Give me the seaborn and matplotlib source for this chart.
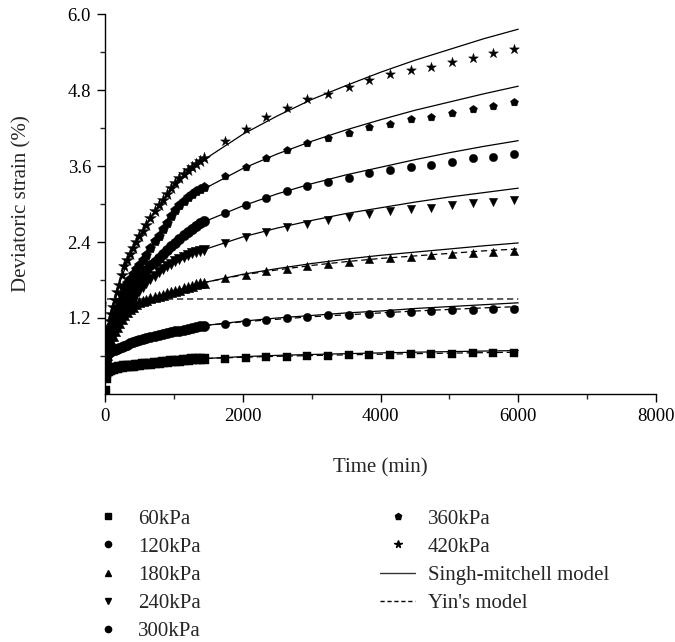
import numpy as np
import pandas as pd
import matplotlib
matplotlib.use("Agg")
import matplotlib.pyplot as plt
from matplotlib.lines import Line2D
import seaborn as sns

# ---------------- data ----------------
pressures = ["60kPa", "120kPa", "180kPa", "240kPa", "300kPa", "360kPa", "420kPa"]
markers = ["s", "o", "^", "v", "o", "p", "*"]

# dense test readings (first day)
t_dense = [0, 10, 20, 35, 50, 70, 90, 115, 140, 170, 200, 240, 280, 320, 360, 400, 450,
           500, 550, 600, 660, 720, 780, 840, 900, 960, 1020, 1080, 1140, 1200, 1260,
           1320, 1380, 1440]
d60 = [0.05, 0.25, 0.33, 0.36, 0.37, 0.38, 0.39, 0.40, 0.405, 0.41, 0.42, 0.425, 0.435,
       0.44, 0.445, 0.45, 0.455, 0.46, 0.47, 0.475, 0.48, 0.49, 0.495, 0.50, 0.51, 0.515,
       0.52, 0.525, 0.53, 0.54, 0.545, 0.55, 0.555, 0.56]
d120 = [0.35, 0.50, 0.58, 0.62, 0.64, 0.66, 0.68, 0.69, 0.70, 0.71, 0.72, 0.74, 0.76,
        0.78, 0.80, 0.82, 0.84, 0.86, 0.875, 0.89, 0.905, 0.92, 0.935, 0.95, 0.96, 0.975,
        0.99, 1.00, 1.015, 1.03, 1.04, 1.055, 1.07, 1.08]
d180 = [0.30, 0.45, 0.53, 0.62, 0.69, 0.77, 0.84, 0.92, 0.99, 1.06, 1.12, 1.19, 1.25,
        1.30, 1.34, 1.38, 1.42, 1.45, 1.47, 1.49, 1.51, 1.53, 1.55, 1.57, 1.59, 1.61,
        1.63, 1.65, 1.67, 1.69, 1.71, 1.73, 1.745, 1.76]
d240 = [0.35, 0.50, 0.58, 0.67, 0.73, 0.80, 0.86, 0.93, 0.99, 1.06, 1.12, 1.20, 1.28,
        1.35, 1.42, 1.49, 1.56, 1.63, 1.69, 1.75, 1.81, 1.87, 1.92, 1.97, 2.02, 2.06,
        2.10, 2.13, 2.16, 2.19, 2.22, 2.24, 2.265, 2.28]
d300 = [0.40, 0.56, 0.65, 0.75, 0.82, 0.90, 0.97, 1.05, 1.12, 1.20, 1.27, 1.36, 1.44,
        1.52, 1.59, 1.66, 1.74, 1.82, 1.89, 1.96, 2.03, 2.09, 2.15, 2.21, 2.27, 2.33,
        2.39, 2.45, 2.51, 2.56, 2.61, 2.66, 2.70, 2.73]
d360 = [0.45, 0.62, 0.72, 0.83, 0.91, 1.00, 1.08, 1.17, 1.26, 1.36, 1.45, 1.56, 1.66,
        1.75, 1.82, 1.89, 1.97, 2.03, 2.11, 2.20, 2.31, 2.41, 2.50, 2.60, 2.70, 2.81,
        2.91, 2.98, 3.05, 3.11, 3.16, 3.20, 3.24, 3.27]
d420 = [0.50, 0.75, 0.86, 0.98, 1.06, 1.16, 1.26, 1.38, 1.49, 1.61, 1.72, 1.88, 2.02,
        2.12, 2.21, 2.30, 2.40, 2.49, 2.58, 2.67, 2.78, 2.89, 2.98, 3.07, 3.16, 3.25,
        3.33, 3.41, 3.47, 3.53, 3.58, 3.63, 3.68, 3.73]

# sparse test readings (later)
t_sparse = [1740, 2040, 2340, 2640, 2940, 3240, 3540, 3840, 4140, 4440, 4740, 5040, 5340, 5640, 5940]
s60 = [0.56, 0.57, 0.58, 0.59, 0.60, 0.605, 0.61, 0.615, 0.62, 0.625, 0.63, 0.635, 0.64, 0.645, 0.65]
s120 = [1.11, 1.14, 1.17, 1.20, 1.22, 1.24, 1.255, 1.27, 1.285, 1.295, 1.305, 1.32, 1.33, 1.34, 1.35]
s180 = [1.83, 1.885, 1.935, 1.98, 2.02, 2.06, 2.09, 2.125, 2.15, 2.17, 2.19, 2.215, 2.23, 2.245, 2.26]
s240 = [2.38, 2.48, 2.56, 2.63, 2.68, 2.74, 2.79, 2.85, 2.89, 2.92, 2.94, 2.98, 3.02, 3.03, 3.06]
s300 = [2.86, 2.99, 3.10, 3.20, 3.28, 3.34, 3.41, 3.49, 3.54, 3.59, 3.62, 3.67, 3.72, 3.75, 3.79]
s360 = [3.44, 3.59, 3.73, 3.85, 3.97, 4.05, 4.12, 4.21, 4.27, 4.34, 4.38, 4.44, 4.50, 4.55, 4.61]
s420 = [3.99, 4.18, 4.37, 4.51, 4.66, 4.74, 4.84, 4.96, 5.05, 5.12, 5.17, 5.25, 5.31, 5.38, 5.45]

# Singh-Mitchell model curves
t_model = [0, 10, 50, 200, 400, 700, 1000, 1440, 2000, 2500, 3000, 3500, 4000, 4500, 5000, 5500, 6000]
sm60 = [0.05, 0.25, 0.37, 0.42, 0.45, 0.485, 0.52, 0.56, 0.59, 0.61, 0.624, 0.637, 0.649, 0.66, 0.669, 0.678, 0.686]
sm120 = [0.35, 0.50, 0.64, 0.72, 0.82, 0.915, 0.985, 1.08, 1.15, 1.20, 1.24, 1.28, 1.31, 1.35, 1.38, 1.41, 1.44]
sm180 = [0.30, 0.45, 0.69, 1.12, 1.38, 1.52, 1.62, 1.76, 1.89, 1.98, 2.06, 2.13, 2.19, 2.24, 2.29, 2.34, 2.385]
sm240 = [0.35, 0.50, 0.73, 1.12, 1.49, 1.85, 2.06, 2.28, 2.48, 2.62, 2.74, 2.85, 2.94, 3.03, 3.11, 3.18, 3.25]
sm300 = [0.40, 0.56, 0.82, 1.27, 1.66, 2.07, 2.37, 2.72, 2.97, 3.16, 3.32, 3.46, 3.58, 3.70, 3.81, 3.91, 4.00]
sm360 = [0.45, 0.62, 0.91, 1.45, 1.89, 2.37, 2.87, 3.24, 3.56, 3.79, 3.99, 4.17, 4.33, 4.48, 4.61, 4.74, 4.86]
sm420 = [0.50, 0.75, 1.06, 1.72, 2.30, 2.85, 3.28, 3.70, 4.10, 4.39, 4.65, 4.87, 5.08, 5.27, 5.44, 5.61, 5.76]

# Yin's model curves
yin60 = [0.05, 0.25, 0.37, 0.42, 0.45, 0.485, 0.52, 0.56, 0.58, 0.595, 0.607, 0.618, 0.628, 0.637, 0.645, 0.653, 0.66]
yin120 = [0.35, 0.50, 0.64, 0.72, 0.82, 0.915, 0.985, 1.08, 1.14, 1.18, 1.22, 1.25, 1.28, 1.31, 1.335, 1.36, 1.38]
yin180 = [0.30, 0.45, 0.69, 1.12, 1.38, 1.52, 1.62, 1.76, 1.88, 1.96, 2.03, 2.09, 2.14, 2.18, 2.22, 2.26, 2.29]
t_yin_flat = [0, 15, 6000]
yin_flat = [1.2, 1.5, 1.5]

x_ticks = [0, 2000, 4000, 6000, 8000]
y_ticks = [1.2, 2.4, 3.6, 4.8, 6.0]
y_tick_labels = ["1.2", "2.4", "3.6", "4.8", "6.0"]

# ---------------- figure ----------------
sns.set_style("ticks")
plt.rcParams["font.family"] = ["Liberation Serif", "DejaVu Serif"]

FS = 15
TFS = 13.5
fig = plt.figure(figsize=(6.75, 6.42), dpi=100)
ax = fig.add_axes([105 / 675, (642 - 394) / 642, (656 - 105) / 675, (394 - 14) / 642])

dense_all = [d60, d120, d180, d240, d300, d360, d420]
sparse_all = [s60, s120, s180, s240, s300, s360, s420]
sm_all = [sm60, sm120, sm180, sm240, sm300, sm360, sm420]

# model lines
for sm in sm_all:
    sns.lineplot(x=t_model, y=sm, ax=ax, color="black", lw=0.9, zorder=2, sort=False)
for yv in [yin60, yin120, yin180]:
    sns.lineplot(x=t_model, y=yv, ax=ax, color="black", lw=0.9, ls=(0, (5, 3)), zorder=2, sort=False)
sns.lineplot(x=t_yin_flat, y=yin_flat, ax=ax, color="black", lw=0.9, ls=(0, (5, 3)), zorder=2, sort=False)

# test data
for lab, mk, dv, sv in zip(pressures, markers, dense_all, sparse_all):
    big = mk == "*"
    sns.scatterplot(x=t_dense, y=dv, ax=ax, marker=mk, s=(80 if big else 56), color="black",
                    edgecolor="black", linewidth=0.3, zorder=3, legend=False)
    sns.scatterplot(x=t_sparse, y=sv, ax=ax, marker=mk, s=(55 if big else 36), color="black",
                    edgecolor="black", linewidth=0.3, zorder=3, legend=False)

ax.set_xlim(0, 8000)
ax.set_ylim(0, 6.0)
ax.set_xticks(x_ticks)
ax.set_xticklabels([str(v) for v in x_ticks])
ax.set_xticks([1000, 3000, 5000, 7000], minor=True)
ax.set_yticks(y_ticks)
ax.set_yticklabels(y_tick_labels)
ax.set_yticks([0.6, 1.8, 3.0, 4.2, 5.4], minor=True)
ax.tick_params(axis="both", which="major", direction="out", length=6, width=1,
               labelsize=TFS, colors="black", pad=4)
ax.tick_params(axis="both", which="minor", direction="out", length=3.5, width=1)
for s in ["top", "right"]:
    ax.spines[s].set_visible(False)
for s in ["left", "bottom"]:
    ax.spines[s].set_linewidth(1.0)
    ax.spines[s].set_color("black")

ax.set_xlabel("Time (min)", fontsize=FS, labelpad=24)
ax.set_ylabel("Deviatoric strain (%)", fontsize=FS, labelpad=26)

# legends
def mh(m, ms):
    return Line2D([], [], ls="none", marker=m, color="black", markersize=ms)

h1 = [mh("s", 4.5), mh("o", 4.5), mh("^", 4.5), mh("v", 4.5), mh("o", 4.5)]
l1 = pressures[:5]
h2 = [mh("p", 4.8), mh("*", 5.5), Line2D([], [], color="#333333", lw=1.0),
      Line2D([], [], color="black", lw=1.0, ls=(0, (3, 2)))]
l2 = ["360kPa", "420kPa", "Singh-mitchell model", "Yin's model"]

kw = dict(loc="upper left", frameon=False, borderpad=0, borderaxespad=0,
          handlelength=1.7, handletextpad=0.6, labelspacing=0.41, prop={"size": FS})
leg1 = fig.legend(h1, l1, bbox_to_anchor=(90 / 675, (642 - 509) / 642), **kw)
leg2 = fig.legend(h2, l2, bbox_to_anchor=(380 / 675, (642 - 509) / 642), **kw)

fig.savefig("out.png", dpi=100)
